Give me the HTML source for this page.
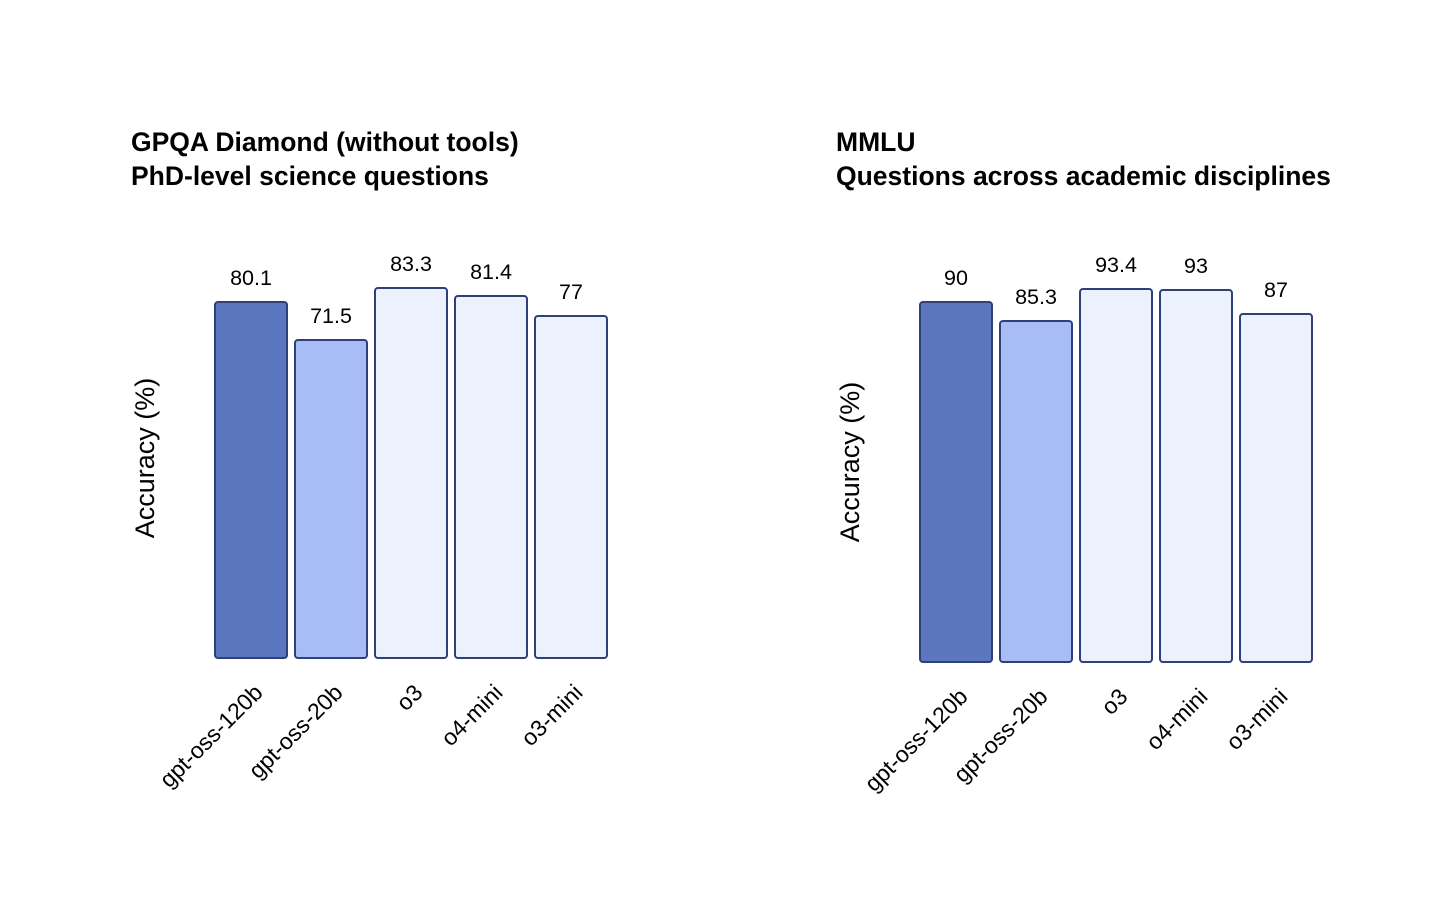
<!DOCTYPE html>
<html><head><style>body{margin:0;background:#fff}</style></head><body>
<svg width="1452" height="902" xmlns="http://www.w3.org/2000/svg" font-family="Liberation Sans, sans-serif">
<g font-weight="bold" font-size="26.5" fill="#000">
<text x="131" y="151">GPQA Diamond (without tools)</text>
<text x="131" y="185">PhD-level science questions</text>
<text x="836" y="151">MMLU</text>
<text x="836" y="185">Questions across academic disciplines</text>
</g>
<g font-size="27" fill="#000">
<text transform="translate(154,458) rotate(-90)" text-anchor="middle">Accuracy (%)</text>
<text transform="translate(859,462) rotate(-90)" text-anchor="middle">Accuracy (%)</text>
</g>
<g stroke="#2f4078" stroke-width="2">
<rect x="215" y="302" width="72" height="356" rx="3" fill="#5b77c0"/>
<rect x="295" y="340" width="72" height="318" rx="3" fill="#a8bdf5"/>
<rect x="375" y="288" width="72" height="370" rx="3" fill="#ebf1fd"/>
<rect x="455" y="296" width="72" height="362" rx="3" fill="#ebf1fd"/>
<rect x="535" y="316" width="72" height="342" rx="3" fill="#ebf1fd"/>
<rect x="920" y="302" width="72" height="360" rx="3" fill="#5b77c0"/>
<rect x="1000" y="321" width="72" height="341" rx="3" fill="#a8bdf5"/>
<rect x="1080" y="289" width="72" height="373" rx="3" fill="#ebf1fd"/>
<rect x="1160" y="290" width="72" height="372" rx="3" fill="#ebf1fd"/>
<rect x="1240" y="314" width="72" height="348" rx="3" fill="#ebf1fd"/>
</g>
<g font-size="21.5" fill="#000" text-anchor="middle">
<text x="251" y="285">80.1</text><text x="331" y="323">71.5</text><text x="411" y="271">83.3</text><text x="491" y="279">81.4</text><text x="571" y="299">77</text>
<text x="956" y="285">90</text><text x="1036" y="304">85.3</text><text x="1116" y="272">93.4</text><text x="1196" y="273">93</text><text x="1276" y="297">87</text>
</g>
<g font-size="23" fill="#000" text-anchor="end">
<text transform="translate(264,694) rotate(-45)">gpt-oss-120b</text>
<text transform="translate(344,694) rotate(-45)">gpt-oss-20b</text>
<text transform="translate(424,694) rotate(-45)">o3</text>
<text transform="translate(504,694) rotate(-45)">o4-mini</text>
<text transform="translate(584,694) rotate(-45)">o3-mini</text>
<text transform="translate(969,698) rotate(-45)">gpt-oss-120b</text>
<text transform="translate(1049,698) rotate(-45)">gpt-oss-20b</text>
<text transform="translate(1129,698) rotate(-45)">o3</text>
<text transform="translate(1209,698) rotate(-45)">o4-mini</text>
<text transform="translate(1289,698) rotate(-45)">o3-mini</text>
</g>
</svg>
</body></html>
